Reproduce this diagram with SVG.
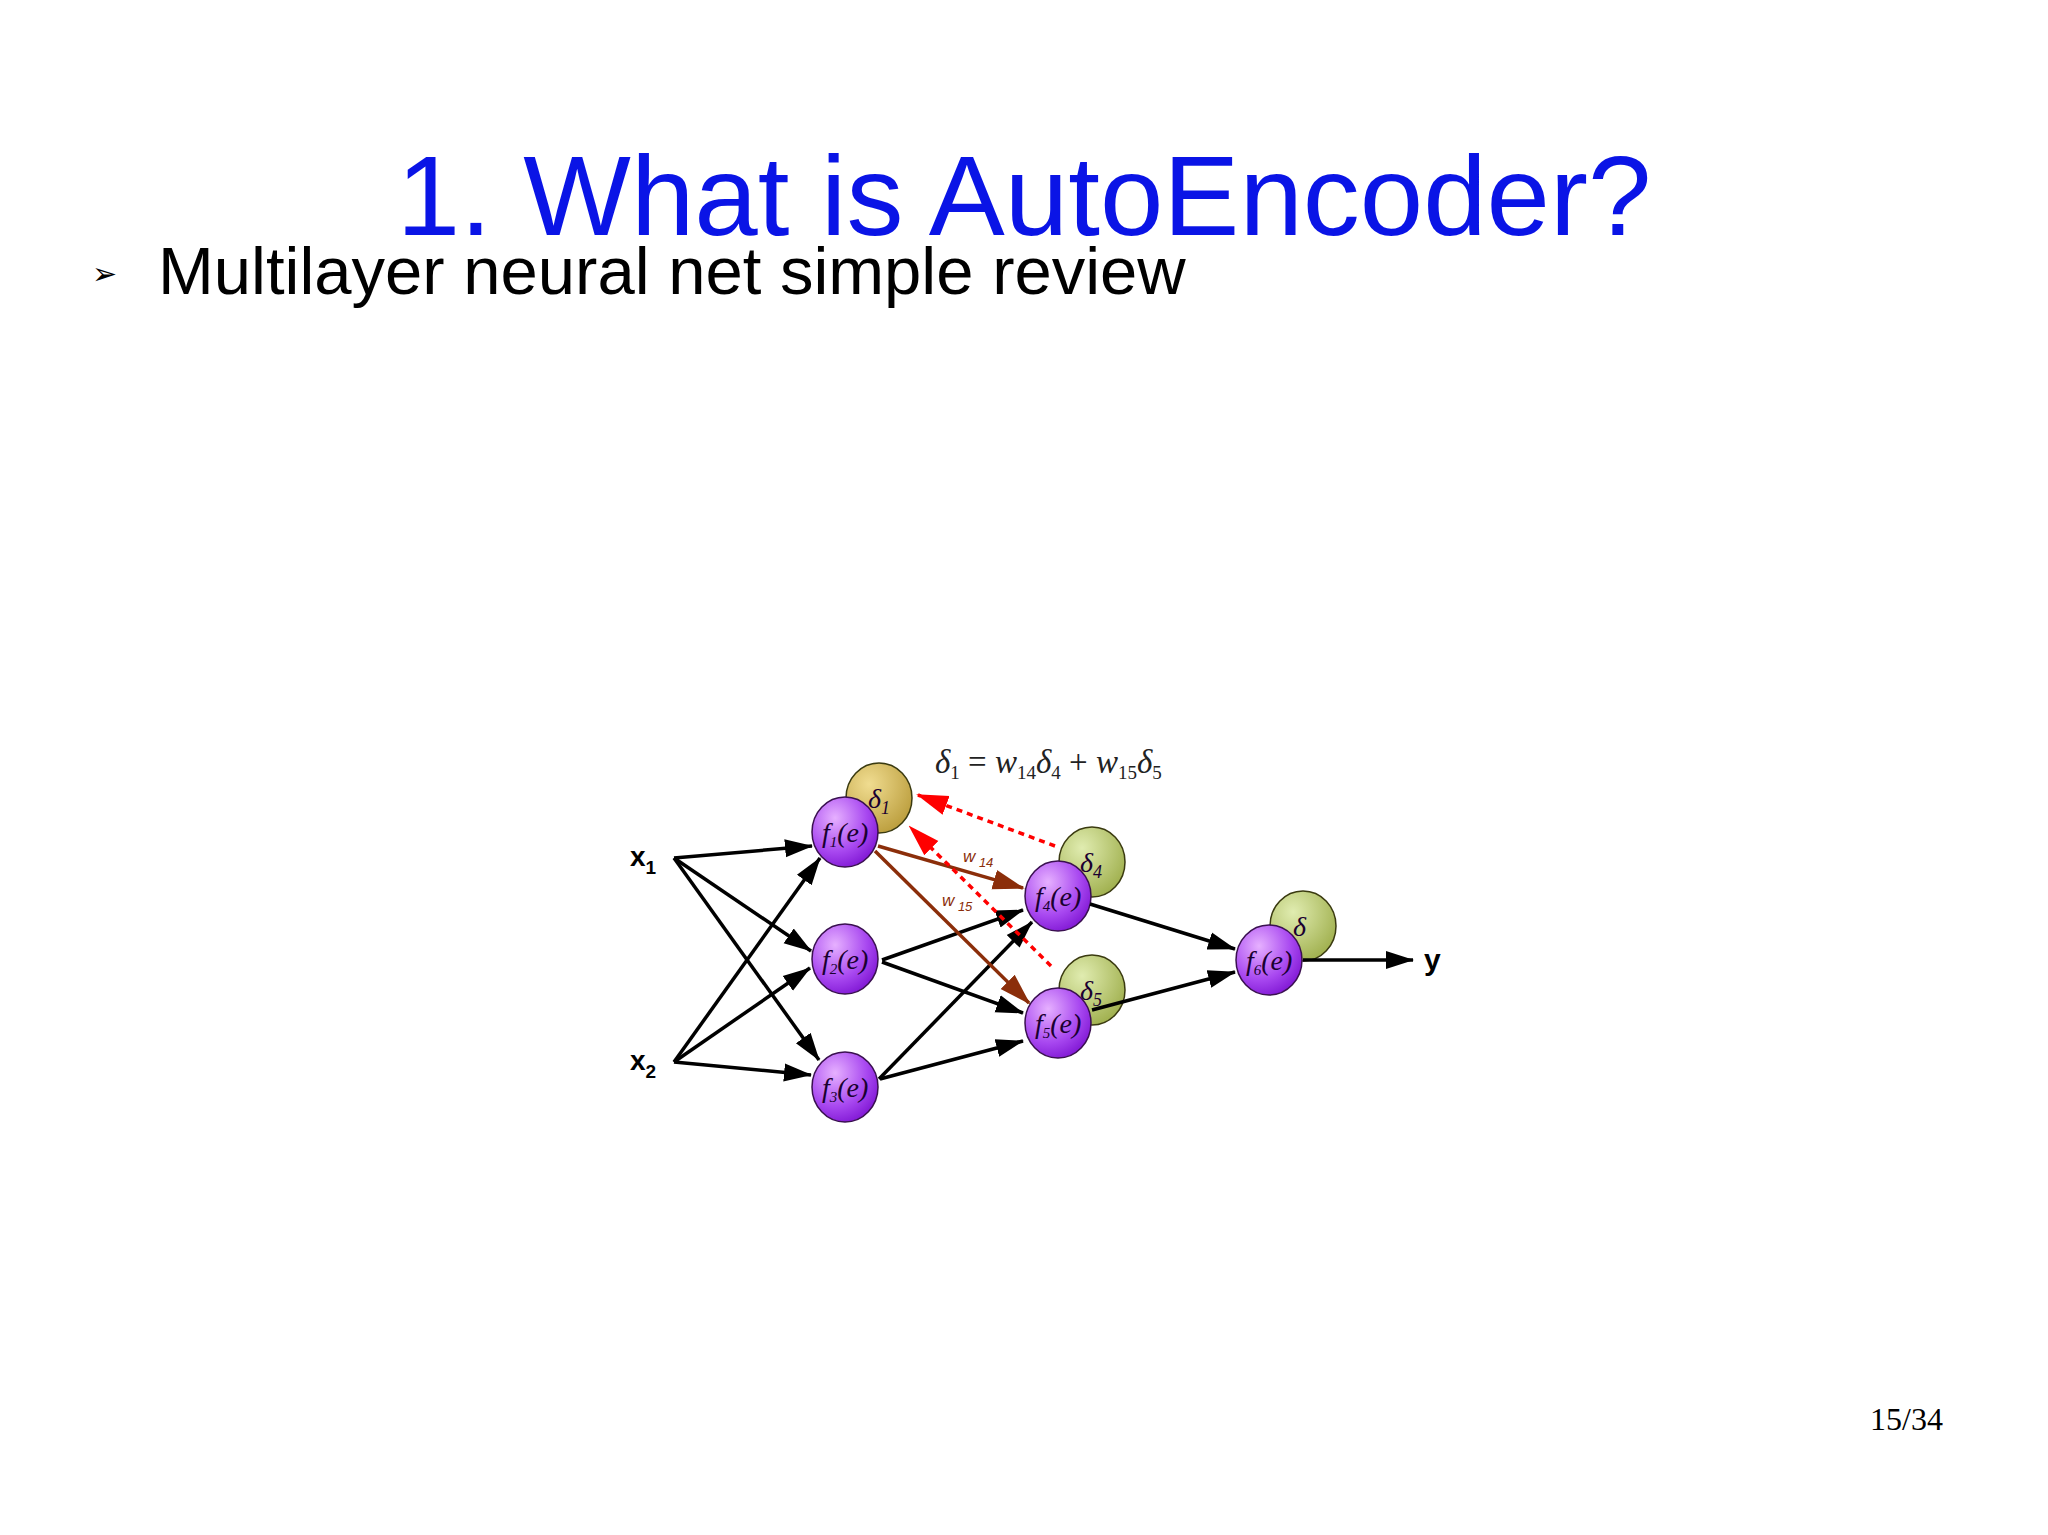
<svg xmlns="http://www.w3.org/2000/svg" width="2048" height="1535" viewBox="0 0 2048 1535">
<style>
.t{font-family:"Liberation Sans",Arial,sans-serif}
.s{font-family:"Liberation Serif","Times New Roman",serif;font-style:italic}
.f{fill:url(#gp);stroke:#3a1050;stroke-width:1.5}
.d{fill:url(#gg);stroke:#3a3a10;stroke-width:1.5}
.b{stroke:#000;stroke-width:3.5;fill:none;marker-end:url(#ab)}
.br{stroke:#8b2e0a;stroke-width:3.5;fill:none;marker-end:url(#abr)}
.r{stroke:#f00;stroke-width:3.5;stroke-dasharray:6 5;fill:none;marker-end:url(#ar)}
.nl{font-family:"Liberation Serif",serif;font-style:italic;font-size:28px;fill:#1a0030}
</style>
<defs>
<radialGradient id="gp" cx="0.35" cy="0.3" r="0.8"><stop offset="0" stop-color="#e6b0ff"/><stop offset="0.6" stop-color="#a848f0"/><stop offset="1" stop-color="#7a10d0"/></radialGradient>
<radialGradient id="gg" cx="0.35" cy="0.3" r="0.8"><stop offset="0" stop-color="#e0ecb0"/><stop offset="1" stop-color="#9cac48"/></radialGradient>
<radialGradient id="gy" cx="0.35" cy="0.3" r="0.8"><stop offset="0" stop-color="#f0dc90"/><stop offset="1" stop-color="#b89a38"/></radialGradient>
<marker id="ab" viewBox="0 0 28 28" refX="27" refY="14" markerWidth="28" markerHeight="28" orient="auto" markerUnits="userSpaceOnUse"><path d="M0,5L28,14L0,23z" fill="#000"/></marker>
<marker id="abr" viewBox="0 0 32 32" refX="30" refY="16" markerWidth="32" markerHeight="32" orient="auto" markerUnits="userSpaceOnUse"><path d="M0,6L32,16L0,26z" fill="#8b2e0a"/></marker>
<marker id="ar" viewBox="0 0 32 32" refX="30" refY="16" markerWidth="32" markerHeight="32" orient="auto" markerUnits="userSpaceOnUse"><path d="M0,6L32,16L0,26z" fill="#f00"/></marker>
</defs>
<rect width="2048" height="1535" fill="#fff"/>
<text class="t" x="1024" y="235" font-size="114" fill="#0a14e6" text-anchor="middle">1. What is AutoEncoder?</text>
<text class="t" x="92" y="284" font-size="30" fill="#000">➢</text>
<text class="t" x="158" y="294" font-size="67" fill="#000">Multilayer neural net simple review</text>
<text x="1943" y="1430" font-family="Liberation Serif,serif" font-size="32" text-anchor="end">15/34</text>

<g id="nodes">
<g id="d1"><ellipse class="d" style="fill:url(#gy)" cx="879" cy="798" rx="33" ry="35"/><text class="nl" x="868" y="808">δ<tspan font-size="18" dy="6">1</tspan></text></g>
<g id="d4"><ellipse class="d" cx="1092" cy="862" rx="33" ry="35"/><text class="nl" x="1080" y="872">δ<tspan font-size="18" dy="6">4</tspan></text></g>
<g id="d5"><ellipse class="d" cx="1092" cy="990" rx="33" ry="35"/><text class="nl" x="1080" y="1000">δ<tspan font-size="18" dy="6">5</tspan></text></g>
<g id="d6"><ellipse class="d" cx="1303" cy="926" rx="33" ry="35"/><text class="nl" x="1293" y="936">δ</text></g>
<g id="f1"><ellipse class="f" cx="845" cy="832" rx="33" ry="35"/><text class="nl" x="822" y="842">f<tspan font-size="15" dy="5">1</tspan><tspan dy="-5">(e)</tspan></text></g>
<g id="f2"><ellipse class="f" cx="845" cy="959" rx="33" ry="35"/><text class="nl" x="822" y="969">f<tspan font-size="15" dy="5">2</tspan><tspan dy="-5">(e)</tspan></text></g>
<g id="f3"><ellipse class="f" cx="845" cy="1087" rx="33" ry="35"/><text class="nl" x="822" y="1097">f<tspan font-size="15" dy="5">3</tspan><tspan dy="-5">(e)</tspan></text></g>
<g id="f4"><ellipse class="f" cx="1058" cy="896" rx="33" ry="35"/><text class="nl" x="1035" y="906">f<tspan font-size="15" dy="5">4</tspan><tspan dy="-5">(e)</tspan></text></g>
<g id="f5"><ellipse class="f" cx="1058" cy="1023" rx="33" ry="35"/><text class="nl" x="1035" y="1033">f<tspan font-size="15" dy="5">5</tspan><tspan dy="-5">(e)</tspan></text></g>
<g id="f6"><ellipse class="f" cx="1269" cy="960" rx="33" ry="35"/><text class="nl" x="1246" y="970">f<tspan font-size="15" dy="5">6</tspan><tspan dy="-5">(e)</tspan></text></g>
<g id="x1"><text class="t" x="630" y="866" font-size="28" font-weight="bold">x<tspan font-size="19" dy="8">1</tspan></text></g>
<g id="x2"><text class="t" x="630" y="1070" font-size="28" font-weight="bold">x<tspan font-size="19" dy="8">2</tspan></text></g>
<g id="y"><text class="t" x="1424" y="970" font-size="30" font-weight="bold">y</text></g>
</g>

<g id="connectors">
<path class="b" d="M674,858L812,846"/>
<path class="b" d="M674,858L811,951"/>
<path class="b" d="M674,858L819,1060"/>
<path class="b" d="M674,1062L820,858"/>
<path class="b" d="M674,1062L810,968"/>
<path class="b" d="M674,1062L811,1075"/>
<path class="b" d="M882,960L1023,910"/>
<path class="b" d="M882,962L1023,1013"/>
<path class="b" d="M879,1079L1032,922"/>
<path class="b" d="M880,1079L1023,1041"/>
<path class="b" d="M1090,904L1235,949"/>
<path class="b" d="M1092,1010L1235,972"/>
<path class="b" d="M1303,960L1413,960"/>
<path class="br" d="M878,846L1023,888"/>
<path class="br" d="M875,851L1029,1003"/>
<path class="r" d="M1055,846L918,795"/>
<path class="r" d="M1051,966L910,827"/>
</g>
<text class="t" x="963" y="862" font-size="17" font-style="italic" fill="#8b2e0a">w<tspan font-size="13" dy="5"> 14</tspan></text>
<text class="t" x="942" y="906" font-size="17" font-style="italic" fill="#8b2e0a">w<tspan font-size="13" dy="5"> 15</tspan></text>
<text class="s" x="935" y="773" font-size="33" fill="#222">δ<tspan font-size="19" dy="6" font-style="normal">1</tspan><tspan dy="-6" font-style="normal"> = </tspan>w<tspan font-size="19" dy="6" font-style="normal">14</tspan><tspan dy="-6">δ</tspan><tspan font-size="19" dy="6" font-style="normal">4</tspan><tspan dy="-6" font-style="normal"> + </tspan>w<tspan font-size="19" dy="6" font-style="normal">15</tspan><tspan dy="-6">δ</tspan><tspan font-size="19" dy="6" font-style="normal">5</tspan></text>
</svg>
